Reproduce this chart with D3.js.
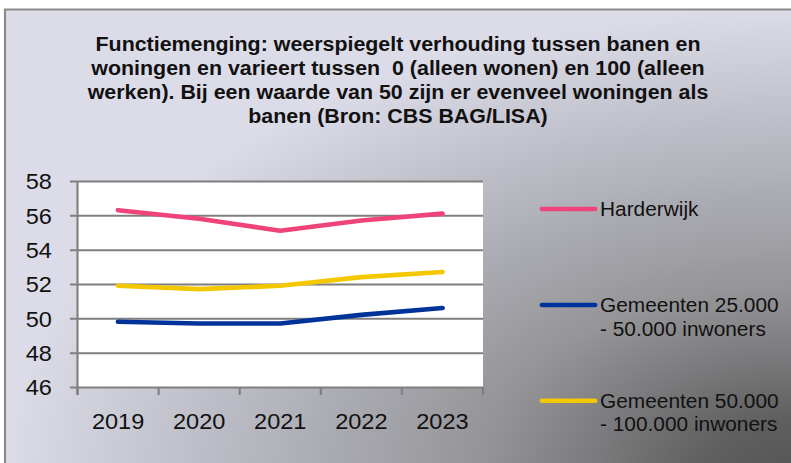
<!DOCTYPE html>
<html>
<head>
<meta charset="utf-8">
<script src="https://d3js.org/d3.v7.min.js"></script>
<style>
  html, body { margin: 0; padding: 0; background: #fff; }
  svg { display: block; }
</style>
</head>
<body>
<div class="diagram-canvas"></div>
<script>
let years = ["2019", "2020", "2021", "2022", "2023"];
let harderwijk = [56.3, 55.8, 55.1, 55.7, 56.1];
let gemeenten25 = [49.8, 49.7, 49.7, 50.2, 50.6];
let gemeenten50 = [51.9, 51.7, 51.9, 52.4, 52.7];
let yTicks = [46, 48, 50, 52, 54, 56, 58];
let seriesNames = [
  ["Harderwijk"],
  ["Gemeenten 25.000", "- 50.000 inwoners"],
  ["Gemeenten 50.000", "- 100.000 inwoners"]
];
let titleLines = [
  "Functiemenging: weerspiegelt verhouding tussen banen en",
  "woningen en varieert tussen  0 (alleen wonen) en 100 (alleen",
  "werken). Bij een waarde van 50 zijn er evenveel woningen als",
  "banen (Bron: CBS BAG/LISA)"
];

function chartLines() {
  // the reference is a little stretched horizontally
  let stretch = 1.07,
    screenW = 791,
    screenH = 463,
    width = screenW / stretch,
    left = 77.5 / stretch,
    right = 483 / stretch,
    top = 181,
    bottom = 387,
    tickLen = 7.5 / stretch;

  let series = [
    { values: harderwijk, color: "#ef4479" },
    { values: gemeenten25, color: "#003399" },
    { values: gemeenten50, color: "#f3c800" }
  ];

  let svg = d3
    .select(".diagram-canvas")
    .append("svg")
    .attr("width", screenW)
    .attr("height", screenH)
    .attr("viewBox", "0 0 " + width + " " + screenH)
    .attr("preserveAspectRatio", "none");

  let defs = svg.append("defs");
  let grad = defs
    .append("radialGradient")
    .attr("id", "bg")
    .attr("cx", 1)
    .attr("cy", 1)
    .attr("r", 1)
    .attr("fx", 1)
    .attr("fy", 1);
  [
    [0, "#555555"],
    [0.12, "#606061"],
    [0.25, "#7a7a7c"],
    [0.4, "#959598"],
    [0.6, "#abacb3"],
    [0.75, "#bdbdc7"],
    [1, "#dcdce8"]
  ].forEach((s) => grad.append("stop").attr("offset", s[0]).attr("stop-color", s[1]));

  svg
    .append("rect")
    .attr("x", 5 / stretch)
    .attr("y", 9.5)
    .attr("width", width)
    .attr("height", screenH)
    .attr("fill", "url(#bg)");

  svg
    .append("path")
    .attr("d", "M" + 5 / stretch + "," + screenH + "V9.5H" + width)
    .attr("fill", "none")
    .attr("stroke", "#8a8a8a")
    .attr("stroke-width", 2);

  // title
  svg
    .append("text")
    .attr("font-family", "'Liberation Sans', Arial, sans-serif")
    .attr("font-weight", "bold")
    .attr("font-size", 20)
    .attr("fill", "#111")
    .attr("text-anchor", "middle")
    .style("white-space", "pre")
    .selectAll("tspan")
    .data(titleLines)
    .enter()
    .append("tspan")
    .attr("x", 398 / stretch)
    .attr("y", (d, i) => 50.7 + i * 24)
    .text((d) => d);

  let xScale = d3.scaleBand().domain(years).range([left, right]);

  let yScale = d3
    .scaleLinear()
    .domain([d3.min(yTicks), d3.max(yTicks)])
    .range([bottom, top]);

  svg
    .append("rect")
    .attr("x", left)
    .attr("y", top)
    .attr("width", right - left)
    .attr("height", bottom - top)
    .attr("fill", "#fff");

  // gridlines
  let grid = svg
    .append("g")
    .attr("transform", "translate(" + (left - tickLen) + ",0)")
    .call(
      d3
        .axisLeft(yScale)
        .tickValues(yTicks)
        .tickSize(-(right - left + tickLen))
        .tickFormat("")
    );
  grid.select(".domain").remove();
  grid.selectAll("line").attr("stroke", "#7f7f7f").attr("stroke-width", 2);

  // y labels
  let yAxis = svg
    .append("g")
    .attr("transform", "translate(" + left + ",0)")
    .call(d3.axisLeft(yScale).tickValues(yTicks).tickSize(0).tickPadding(24));
  yAxis.select(".domain").remove();
  yAxis
    .selectAll("text")
    .attr("dy", "0.36em")
    .attr("font-family", "'Liberation Sans', Arial, sans-serif")
    .attr("font-size", 22)
    .attr("fill", "#111");

  // x axis
  let xAxis = svg
    .append("g")
    .attr("transform", "translate(0," + bottom + ")")
    .call(d3.axisBottom(xScale).tickSize(0).tickPadding(26.4));
  xAxis.select(".domain").remove();
  xAxis
    .selectAll("text")
    .attr("font-family", "'Liberation Sans', Arial, sans-serif")
    .attr("font-size", 22)
    .attr("fill", "#111");

  let edges = years.map((y) => xScale(y)).concat([xScale.range()[1]]);
  svg
    .append("g")
    .selectAll("line")
    .data(edges)
    .enter()
    .append("line")
    .attr("x1", (d) => d)
    .attr("x2", (d) => d)
    .attr("y1", bottom)
    .attr("y2", bottom + 8)
    .attr("stroke", "#7f7f7f")
    .attr("stroke-width", 2);

  svg
    .append("line")
    .attr("x1", left)
    .attr("x2", left)
    .attr("y1", top)
    .attr("y2", bottom + 8)
    .attr("stroke", "#7f7f7f")
    .attr("stroke-width", 2);

  // lines
  let line = d3
    .line()
    .x((d, i) => xScale(years[i]) + xScale.bandwidth() / 2)
    .y((d) => yScale(d));

  svg
    .append("g")
    .selectAll("path")
    .data(series)
    .enter()
    .append("path")
    .attr("d", (d) => line(d.values))
    .attr("fill", "none")
    .attr("stroke", (d) => d.color)
    .attr("stroke-width", 4.6)
    .attr("stroke-linecap", "round")
    .attr("stroke-linejoin", "round");

  // legend
  let legendY = [209, 305, 400.7];
  let legend = svg
    .append("g")
    .selectAll("g")
    .data(series)
    .enter()
    .append("g")
    .attr("transform", (d, i) => "translate(0," + legendY[i] + ")");

  legend
    .append("line")
    .attr("x1", 542 / stretch)
    .attr("x2", 595 / stretch)
    .attr("stroke", (d) => d.color)
    .attr("stroke-width", 4.6)
    .attr("stroke-linecap", "round");

  legend
    .append("text")
    .attr("font-family", "'Liberation Sans', Arial, sans-serif")
    .attr("font-size", 19.5)
    .attr("fill", "#111")
    .selectAll("tspan")
    .data((d, i) => seriesNames[i])
    .enter()
    .append("tspan")
    .attr("x", 600 / stretch)
    .attr("y", (d, i) => 6.8 + i * 24)
    .text((d) => d);
}

chartLines();
</script>
</body>
</html>
